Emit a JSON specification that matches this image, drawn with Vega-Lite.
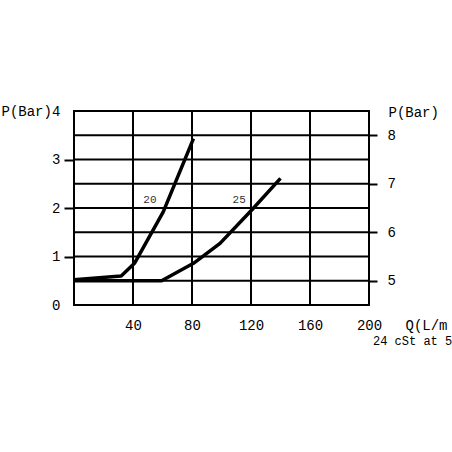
{
  "$schema": "https://vega.github.io/schema/vega-lite/v6.json",
  "width": 295,
  "height": 194,
  "autosize": "none",
  "padding": {"left": 74, "top": 111, "right": 83, "bottom": 147},
  "background": "white",
  "title": {
    "text": "24 cSt at 5",
    "orient": "bottom",
    "anchor": "start",
    "frame": "group",
    "dx": 299,
    "offset": 4,
    "font": "Liberation Mono",
    "fontSize": 12,
    "fontWeight": "normal",
    "color": "black"
  },
  "config": {
    "view": {"stroke": "black", "strokeWidth": 2},
    "axis": {
      "labelFont": "Liberation Mono",
      "labelFontSize": 14,
      "labelColor": "black",
      "labelFlush": false,
      "titleFont": "Liberation Mono",
      "titleFontSize": 14,
      "titleFontWeight": "normal",
      "titleColor": "black",
      "domain": false,
      "grid": false,
      "tickColor": "black",
      "tickWidth": 2
    }
  },
  "datasets": {
    "hgrid": [
      {"p": 0.5}, {"p": 1}, {"p": 1.5}, {"p": 2}, {"p": 2.5}, {"p": 3}, {"p": 3.5}
    ],
    "vgrid": [
      {"q": 40}, {"q": 80}, {"q": 120}, {"q": 160}
    ],
    "curves": [
      {"series": "20", "q": 0, "p": 0.52},
      {"series": "20", "q": 32, "p": 0.6},
      {"series": "20", "q": 41, "p": 0.86},
      {"series": "20", "q": 60.5, "p": 1.92},
      {"series": "20", "q": 81, "p": 3.43},
      {"series": "25", "q": 0, "p": 0.5},
      {"series": "25", "q": 59.4, "p": 0.5},
      {"series": "25", "q": 81, "p": 0.86},
      {"series": "25", "q": 99, "p": 1.27},
      {"series": "25", "q": 120.5, "p": 1.96},
      {"series": "25", "q": 140, "p": 2.61}
    ],
    "labels": [
      {"name": "20", "q": 51.5, "p": 2.16},
      {"name": "25", "q": 112, "p": 2.16}
    ],
    "right": [
      {"p": 5}, {"p": 6}, {"p": 7}, {"p": 8}
    ]
  },
  "layer": [
    {
      "layer": [
        {
          "data": {"name": "hgrid"},
          "mark": {"type": "rule", "color": "black", "strokeWidth": 2},
          "encoding": {
            "y": {
              "field": "p",
              "type": "quantitative",
              "scale": {"domain": [0, 4], "nice": false},
              "axis": {
                "values": [0, 1, 2, 3, 4],
                "tickSize": 10,
                "tickOpacity": {"condition": {"test": "datum.value == 0 || datum.value == 4", "value": 0}, "value": 1},
                "labelPadding": 4,
                "title": "P(Bar)",
                "titleAngle": 0,
                "titleAlign": "left",
                "titleBaseline": "middle",
                "titleX": -73,
                "titleY": 0
              }
            }
          }
        },
        {
          "data": {"name": "vgrid"},
          "mark": {"type": "rule", "color": "black", "strokeWidth": 2},
          "encoding": {
            "x": {
              "field": "q",
              "type": "quantitative",
              "scale": {"domain": [0, 200], "nice": false},
              "axis": {
                "values": [40, 80, 120, 160, 200],
                "ticks": false,
                "labelPadding": 13,
                "labelDx": 4,
                "title": "Q(L/m",
                "titleAlign": "left",
                "titleBaseline": "middle",
                "titleX": 331,
                "titleY": 20
              }
            }
          }
        },
        {
          "data": {"name": "curves"},
          "mark": {"type": "line", "color": "black", "strokeWidth": 3.5, "strokeJoin": "round"},
          "encoding": {
            "x": {"field": "q", "type": "quantitative"},
            "y": {"field": "p", "type": "quantitative"},
            "detail": {"field": "series"}
          }
        },
        {
          "data": {"name": "labels"},
          "mark": {"type": "text", "font": "Liberation Mono", "fontSize": 11, "color": "#333"},
          "encoding": {
            "x": {"field": "q", "type": "quantitative"},
            "y": {"field": "p", "type": "quantitative"},
            "text": {"field": "name"}
          }
        }
      ]
    },
    {
      "data": {"name": "right"},
      "mark": {"type": "rule", "opacity": 0},
      "encoding": {
        "y": {
          "field": "p",
          "type": "quantitative",
          "scale": {"domain": [4.5, 8.5], "nice": false},
          "axis": {
            "orient": "right",
            "values": [5, 6, 7, 8],
            "tickSize": 8,
            "labelPadding": 10,
            "title": "P(Bar)",
            "titleAngle": 0,
            "titleAlign": "left",
            "titleBaseline": "middle",
            "titleX": 19,
            "titleY": 1
          }
        }
      }
    }
  ],
  "resolve": {"scale": {"y": "independent"}}
}
